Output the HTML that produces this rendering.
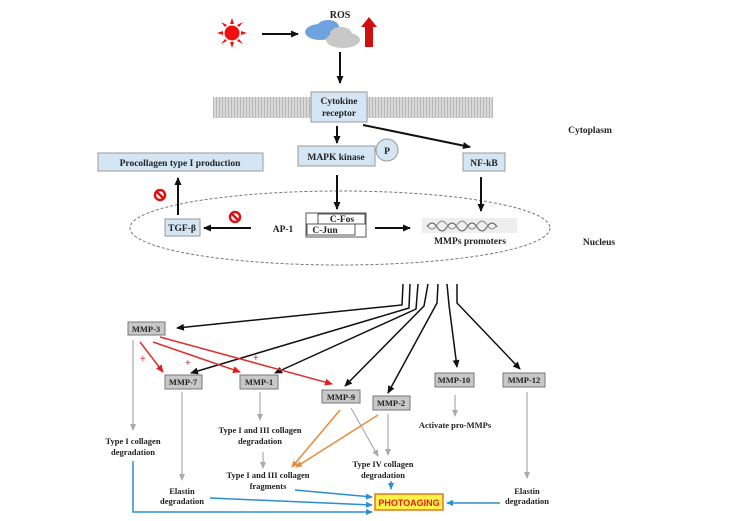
<!DOCTYPE html>
<html><head><meta charset="utf-8"><style>
html,body{margin:0;padding:0;background:#fff;}
svg{display:block;}
text{font-family:"Liberation Serif",serif;font-weight:bold;fill:#222;}
</style></head><body>
<svg width="750" height="521" viewBox="0 0 750 521" xmlns="http://www.w3.org/2000/svg">
<defs>
<marker id="ab" markerWidth="8" markerHeight="8" refX="7" refY="4" orient="auto" markerUnits="userSpaceOnUse"><path d="M0,0.5 L8,4 L0,7.5 z" fill="#111"/></marker>
<marker id="ar" markerWidth="8" markerHeight="8" refX="7" refY="4" orient="auto" markerUnits="userSpaceOnUse"><path d="M0,0.5 L8,4 L0,7.5 z" fill="#e02020"/></marker>
<marker id="ag" markerWidth="7" markerHeight="7" refX="6" refY="3.5" orient="auto" markerUnits="userSpaceOnUse"><path d="M0,0.5 L7,3.5 L0,6.5 z" fill="#aaa"/></marker>
<marker id="ao" markerWidth="7" markerHeight="7" refX="6" refY="3.5" orient="auto" markerUnits="userSpaceOnUse"><path d="M0,0.5 L7,3.5 L0,6.5 z" fill="#e88a3a"/></marker>
<marker id="abl" markerWidth="7" markerHeight="7" refX="6" refY="3.5" orient="auto" markerUnits="userSpaceOnUse"><path d="M0,0.5 L7,3.5 L0,6.5 z" fill="#2a8fd0"/></marker>
<pattern id="mem" width="3" height="3" patternUnits="userSpaceOnUse"><rect width="3" height="3" fill="#d8d8d8"/><rect width="1" height="3" fill="#b8b8b8"/></pattern>
</defs>

<!-- sun -->
<g fill="#f01010">
<circle cx="232" cy="33" r="7.5"/>
<polygon points="232,18 230,24 234,24"/><polygon points="232,48 230,42 234,42"/>
<polygon points="217,33 223,31 223,35"/><polygon points="247,33 241,31 241,35"/>
<polygon points="221,22 225,27 227,25"/><polygon points="243,44 239,39 237,41"/>
<polygon points="243,22 239,27 237,25"/><polygon points="221,44 225,39 227,41"/>
</g>
<line x1="262" y1="34" x2="298" y2="34" stroke="#111" stroke-width="2" marker-end="url(#ab)"/>
<text x="340" y="18" font-size="10" text-anchor="middle">ROS</text>
<g fill="#6fa3e0"><ellipse cx="320" cy="32" rx="15" ry="8"/><ellipse cx="328" cy="27" rx="11" ry="7"/></g>
<g fill="#c8c8c8"><ellipse cx="343" cy="40" rx="17" ry="8"/><ellipse cx="341" cy="34" rx="11" ry="7"/></g>
<polygon points="365,47 373,47 373,27 377,27 369,17 361,27 365,27" fill="#d01010"/>
<line x1="340" y1="52" x2="340" y2="83" stroke="#111" stroke-width="2" marker-end="url(#ab)"/>

<!-- membrane -->
<rect x="213" y="97" width="280" height="21" fill="url(#mem)"/>
<rect x="311" y="92" width="56" height="30" fill="#d4e6f4" stroke="#999"/>
<text x="339" y="104" font-size="9.5" text-anchor="middle">Cytokine</text>
<text x="339" y="116" font-size="9.5" text-anchor="middle">receptor</text>
<text x="590" y="133" font-size="9.5" text-anchor="middle">Cytoplasm</text>
<text x="599" y="245" font-size="9.5" text-anchor="middle">Nucleus</text>

<line x1="337" y1="126" x2="337" y2="143" stroke="#111" stroke-width="2" marker-end="url(#ab)"/>
<line x1="363" y1="125" x2="470" y2="147" stroke="#111" stroke-width="2" marker-end="url(#ab)"/>
<rect x="298" y="146" width="77" height="20" fill="#d4e6f4" stroke="#999"/>
<text x="336" y="160" font-size="9.5" text-anchor="middle">MAPK kinase</text>
<circle cx="387" cy="150" r="11" fill="#d4e6f4" stroke="#999"/>
<text x="387" y="154" font-size="9.5" text-anchor="middle">P</text>
<rect x="463" y="153" width="42" height="18" fill="#d4e6f4" stroke="#999"/>
<text x="484" y="166" font-size="9.5" text-anchor="middle">NF-kB</text>
<rect x="98" y="153" width="165" height="18" fill="#d4e6f4" stroke="#999"/>
<text x="180" y="166" font-size="9.5" text-anchor="middle">Procollagen type I production</text>

<ellipse cx="340" cy="228" rx="210" ry="37" fill="none" stroke="#777" stroke-dasharray="3,2"/>

<line x1="337" y1="175" x2="337" y2="209" stroke="#111" stroke-width="2" marker-end="url(#ab)"/>
<line x1="481" y1="177" x2="481" y2="211" stroke="#111" stroke-width="2" marker-end="url(#ab)"/>
<line x1="178" y1="215" x2="178" y2="178" stroke="#111" stroke-width="2" marker-end="url(#ab)"/>
<g stroke="#e01010" stroke-width="2.5" fill="none"><circle cx="160" cy="195" r="5"/><line x1="157" y1="192" x2="163" y2="198"/><circle cx="235" cy="217" r="5"/><line x1="232" y1="214" x2="238" y2="220"/></g>
<rect x="165" y="219" width="35" height="17" fill="#d4e6f4" stroke="#999"/>
<text x="182" y="231" font-size="9.5" text-anchor="middle">TGF-β</text>
<line x1="251" y1="228" x2="204" y2="228" stroke="#111" stroke-width="2" marker-end="url(#ab)"/>
<text x="283" y="232" font-size="9.5" text-anchor="middle">AP-1</text>
<rect x="306" y="213" width="60" height="24" fill="#fff" stroke="#555"/>
<rect x="318" y="214" width="47" height="10" fill="#fff" stroke="#555"/>
<rect x="307" y="224" width="48" height="11" fill="#fff" stroke="#555"/>
<text x="342" y="222" font-size="9.5" text-anchor="middle">C-Fos</text>
<text x="325" y="233" font-size="9.5" text-anchor="middle">C-Jun</text>
<line x1="375" y1="228" x2="410" y2="228" stroke="#111" stroke-width="2" marker-end="url(#ab)"/>
<rect x="422" y="218" width="95" height="15" fill="#eee"/>
<path d="M427,227 q5,-8 10,0 t10,0 t10,0 t10,0 t10,0 t10,0 t10,0" fill="none" stroke="#555"/>
<path d="M427,225 q5,8 10,0 t10,0 t10,0 t10,0 t10,0 t10,0 t10,0" fill="none" stroke="#888"/>
<text x="470" y="244" font-size="9.5" text-anchor="middle">MMPs promoters</text>

<!-- black lines to MMPs -->
<g stroke="#111" stroke-width="1.5" fill="none" marker-end="url(#ab)">
<polyline points="403,284 402,305 177,328"/>
<polyline points="410,284 409,308 191,373"/>
<polyline points="418,284 416,309 275,373"/>
<polyline points="428,284 424,306 345,386"/>
<polyline points="438,284 437,303 388,393"/>
<polyline points="447,284 449,305 457,367"/>
<polyline points="457,284 457,303 520,369"/>
</g>
<g stroke="#e03030" stroke-width="1.5" marker-end="url(#ar)">
<line x1="140" y1="342" x2="163" y2="372"/>
<line x1="153" y1="342" x2="240" y2="372"/>
<line x1="160" y1="337" x2="332" y2="384"/>
</g>
<g fill="#e02020" font-size="10" font-family="Liberation Sans"><text x="140" y="362" style="fill:#e02020">+</text><text x="185" y="366" style="fill:#e02020">+</text><text x="253" y="361" style="fill:#e02020">+</text></g>

<g fill="#c8c8c8" stroke="#777">
<rect x="128" y="322" width="37" height="13"/><rect x="165" y="375" width="37" height="14"/>
<rect x="240" y="375" width="38" height="14"/><rect x="322" y="390" width="38" height="13"/>
<rect x="373" y="396" width="37" height="14"/><rect x="435" y="373" width="39" height="14"/>
<rect x="503" y="373" width="42" height="14"/>
</g>
<g font-size="8.5" text-anchor="middle">
<text x="146" y="332">MMP-3</text><text x="183" y="385">MMP-7</text><text x="259" y="385">MMP-1</text>
<text x="341" y="400">MMP-9</text><text x="391" y="406">MMP-2</text><text x="454" y="383">MMP-10</text><text x="524" y="383">MMP-12</text>
</g>

<g stroke="#aaa" stroke-width="1.2" marker-end="url(#ag)">
<line x1="133" y1="340" x2="133" y2="430"/>
<line x1="182" y1="392" x2="182" y2="480"/>
<line x1="260" y1="392" x2="260" y2="420"/>
<line x1="263" y1="452" x2="263" y2="468"/>
<line x1="388" y1="414" x2="388" y2="455"/>
<line x1="351" y1="408" x2="378" y2="456"/>
<line x1="455" y1="395" x2="455" y2="416"/>
<line x1="527" y1="392" x2="527" y2="478"/>
</g>
<g stroke="#e88a3a" stroke-width="1.5" marker-end="url(#ao)">
<line x1="340" y1="410" x2="292" y2="467"/>
<line x1="378" y1="415" x2="296" y2="467"/>
</g>
<g font-size="8.5" text-anchor="middle">
<text x="133" y="444">Type I collagen</text><text x="133" y="455">degradation</text>
<text x="182" y="494">Elastin</text><text x="182" y="504">degradation</text>
<text x="260" y="433">Type I and III collagen</text><text x="260" y="444">degradation</text>
<text x="268" y="478">Type I and III collagen</text><text x="268" y="489">fragments</text>
<text x="383" y="467">Type IV collagen</text><text x="383" y="478">degradation</text>
<text x="455" y="428">Activate pro-MMPs</text>
<text x="527" y="494">Elastin</text><text x="527" y="504">degradation</text>
</g>
<g stroke="#2a8fd0" stroke-width="1.5" fill="none" marker-end="url(#abl)">
<polyline points="133,461 133,512 372,512"/>
<line x1="210" y1="498" x2="372" y2="505"/>
<line x1="295" y1="490" x2="372" y2="497"/>
<line x1="391" y1="481" x2="391" y2="489"/>
<line x1="500" y1="503" x2="447" y2="503"/>
</g>
<rect x="375" y="494" width="68" height="16" fill="#fff34a" stroke="#e07a20" stroke-width="1.5"/>
<text x="409" y="506" font-size="9" text-anchor="middle" font-family="Liberation Sans" style="fill:#e02010;font-family:'Liberation Sans',sans-serif">PHOTOAGING</text>
</svg>
</body></html>
